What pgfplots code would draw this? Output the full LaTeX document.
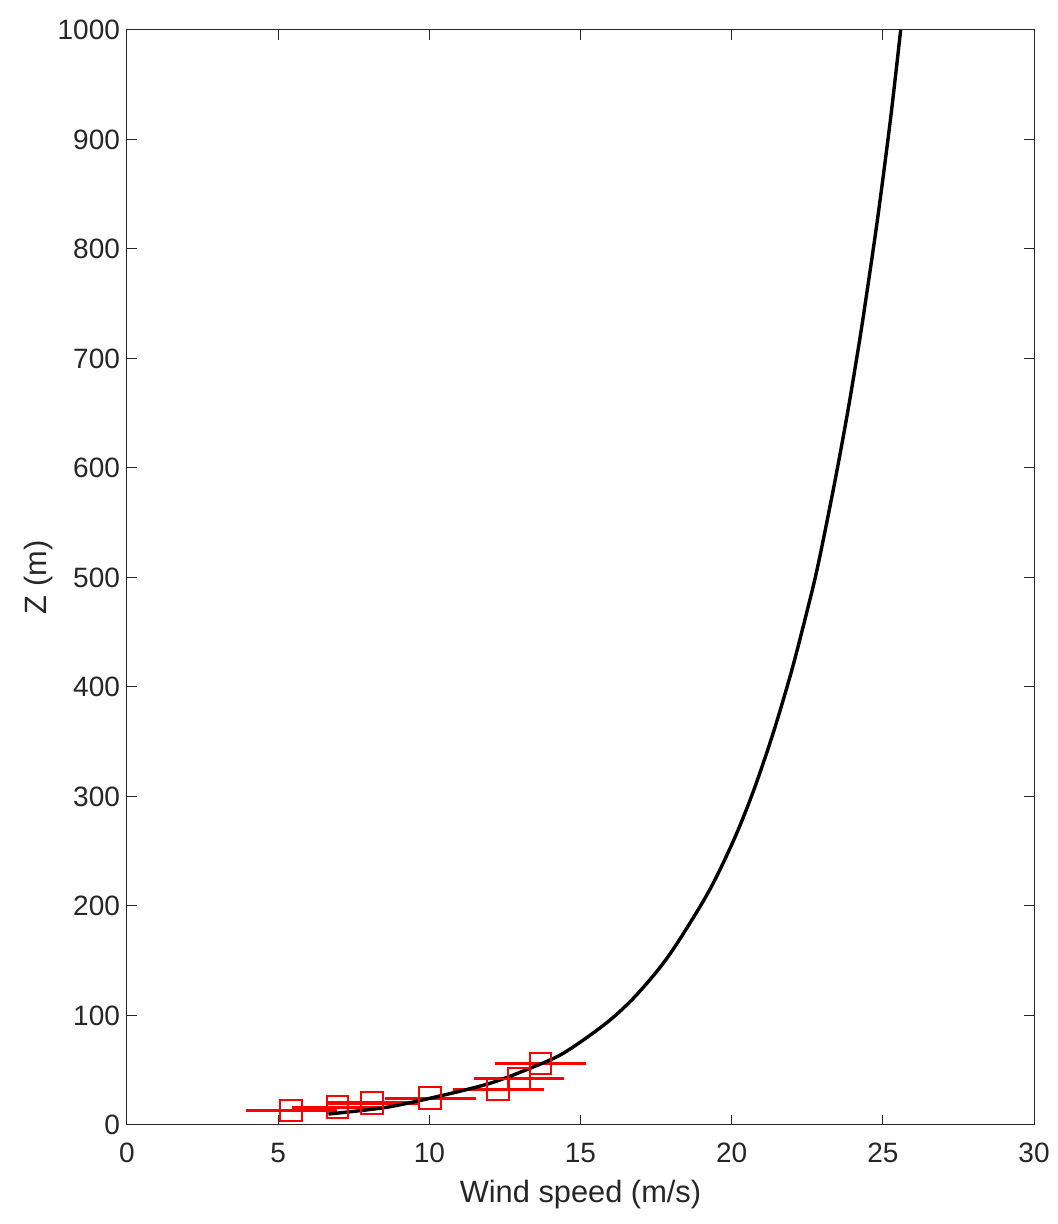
\documentclass[border=0pt]{standalone}
\usepackage{pgfplots}
\pgfplotsset{compat=1.18}
\usepackage{fontspec}
\setmainfont{Liberation Sans}
\definecolor{axgray}{gray}{0.15}
\begin{document}
\begin{tikzpicture}
\useasboundingbox (-63.5pt,-49.5pt) rectangle (465pt,562.5pt);
\begin{axis}[
  scale only axis,
  width=453.5pt, height=547.5pt,
  xmin=0, xmax=30, ymin=0, ymax=1000,
  xtick={0,5,...,30},
  ytick={0,100,...,1000},
  tick align=inside, tick pos=both,
  major tick length=5pt,
  axis line style={axgray, line width=0.5pt},
  every tick/.style={axgray, line width=0.5pt},
  tick label style={font=\fontsize{14}{16}\selectfont, text=axgray},
  /pgf/number format/assume math mode=true,
  /pgf/number format/1000 sep={},
  xticklabel style={anchor=base, yshift=-18.85pt},
  label style={font=\fontsize{15.4}{17}\selectfont, text=axgray},
  xlabel={Wind speed (m/s)},
  ylabel={Z (m)},
  xlabel style={at={(axis description cs:0.5,-0.07096)}, anchor=base},
  ylabel style={at={(axis description cs:-0.0893,0.5)}, anchor=base},
  clip=false,
]
\addplot[red, only marks, mark=square, mark size=5.4pt,
  mark options={line width=1pt, fill=none},
  error bars/.cd, x dir=both, x explicit,
  error bar style={line width=1.75pt, red}, error mark=none]
  table[x=x, y=y, x error=xe] {
x y xe
5.43 13.4 1.5
6.96 16.2 1.5
8.11 20.1 1.5
10.03 24.4 1.5
12.28 32.6 1.5
12.97 42.3 1.5
13.68 56.3 1.5
};
\addplot[black, line width=1.7pt, smooth] coordinates {
(6.66,10) (8.59,16.2) (10.35,26.5) (12.01,38.1) (13.33,51.8) (14.43,65.5)
(15.85,93) (16.85,118.7) (17.93,155) (19.21,211.6) (20.07,260.3)
(20.72,305) (21.37,357.7) (21.96,412.5) (22.42,461.2) (22.83,508)
(23.38,582.9) (23.83,650.0) (24.18,707.8) (24.39,745) (24.82,826.5)
(25.25,917.8) (25.59,1000)
};
\end{axis}
\end{tikzpicture}
\end{document}
